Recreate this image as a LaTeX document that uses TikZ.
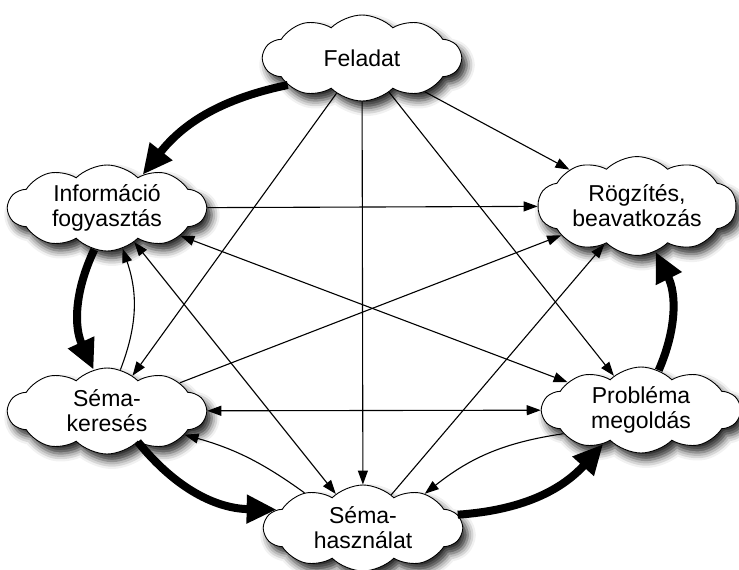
\documentclass[tikz,border=0pt]{standalone}
\usepackage{fontspec}
\setmainfont{Liberation Sans}
\usetikzlibrary{shapes.symbols,arrows.meta,shadows.blur}

\begin{document}
\begin{tikzpicture}[x=1pt,y=-1pt,
  state/.style={cloud, cloud puffs=10, cloud puff arc=90, aspect=2.3,
    draw=black, line width=0.9pt, fill=white,
    minimum width=198pt, minimum height=86pt, inner sep=0pt,
    align=center, font=\fontsize{23}{25}\selectfont,
    blur shadow={shadow xshift=5pt, shadow yshift=-7pt,
      shadow blur radius=8pt, shadow opacity=85}},
  flow/.style={line width=8pt, -{Triangle[length=30pt,width=27pt]}},
  link/.style={line width=1.1pt, -{Triangle[length=14pt,width=10pt]}},
  linkboth/.style={line width=1.1pt, {Triangle[length=14pt,width=10pt]}-{Triangle[length=14pt,width=10pt]}}
]
\useasboundingbox (0,0) rectangle (739,570);

% states of the cycle
\node[state] (fel) at (362,58)  {Feladat};
\node[state] (inf) at (107,208) {Információ\\fogyasztás};
\node[state] (rg)  at (637,206) {Rögzítés,\\beavatkozás};
\node[state] (sk)  at (107,411) {Séma-\\keresés};
\node[state] (pm)  at (641,410) {Probléma\\megoldás};
\node[state] (sh)  at (363,528) {Séma-\\használat};

% main cycle
\draw[flow] (fel.200) to[bend right=20] (inf.43);
\draw[flow] (inf.253) to[bend right=25] (sk.108);
\draw[flow] (sk.315)  to[bend right=25] (sh.168);
\draw[flow] (sh.8)    to[bend right=22] (pm.222);
\draw[flow] (pm.66)   to[bend right=25] (rg.292);

% feedback paths
\draw[link] (sk.72)  to[bend right=20] (inf.291);
\draw[link] (sh.149) to[bend right=10] (sk.343);
\draw[link] (pm.197) to[bend right=15] (sh.29);

% direct links
\draw[link] (fel) -- (sk);
\draw[link] (fel) -- (sh);
\draw[link] (fel) -- (pm);
\draw[link] (fel) -- (rg);
\draw[link] (inf) -- (rg);
\draw[linkboth] (inf) -- (pm);
\draw[linkboth] (inf) -- (sh);
\draw[link] (sk) -- (rg);
\draw[linkboth] (sk) -- (pm);
\draw[link] (sh) -- (rg);
\end{tikzpicture}
\end{document}
